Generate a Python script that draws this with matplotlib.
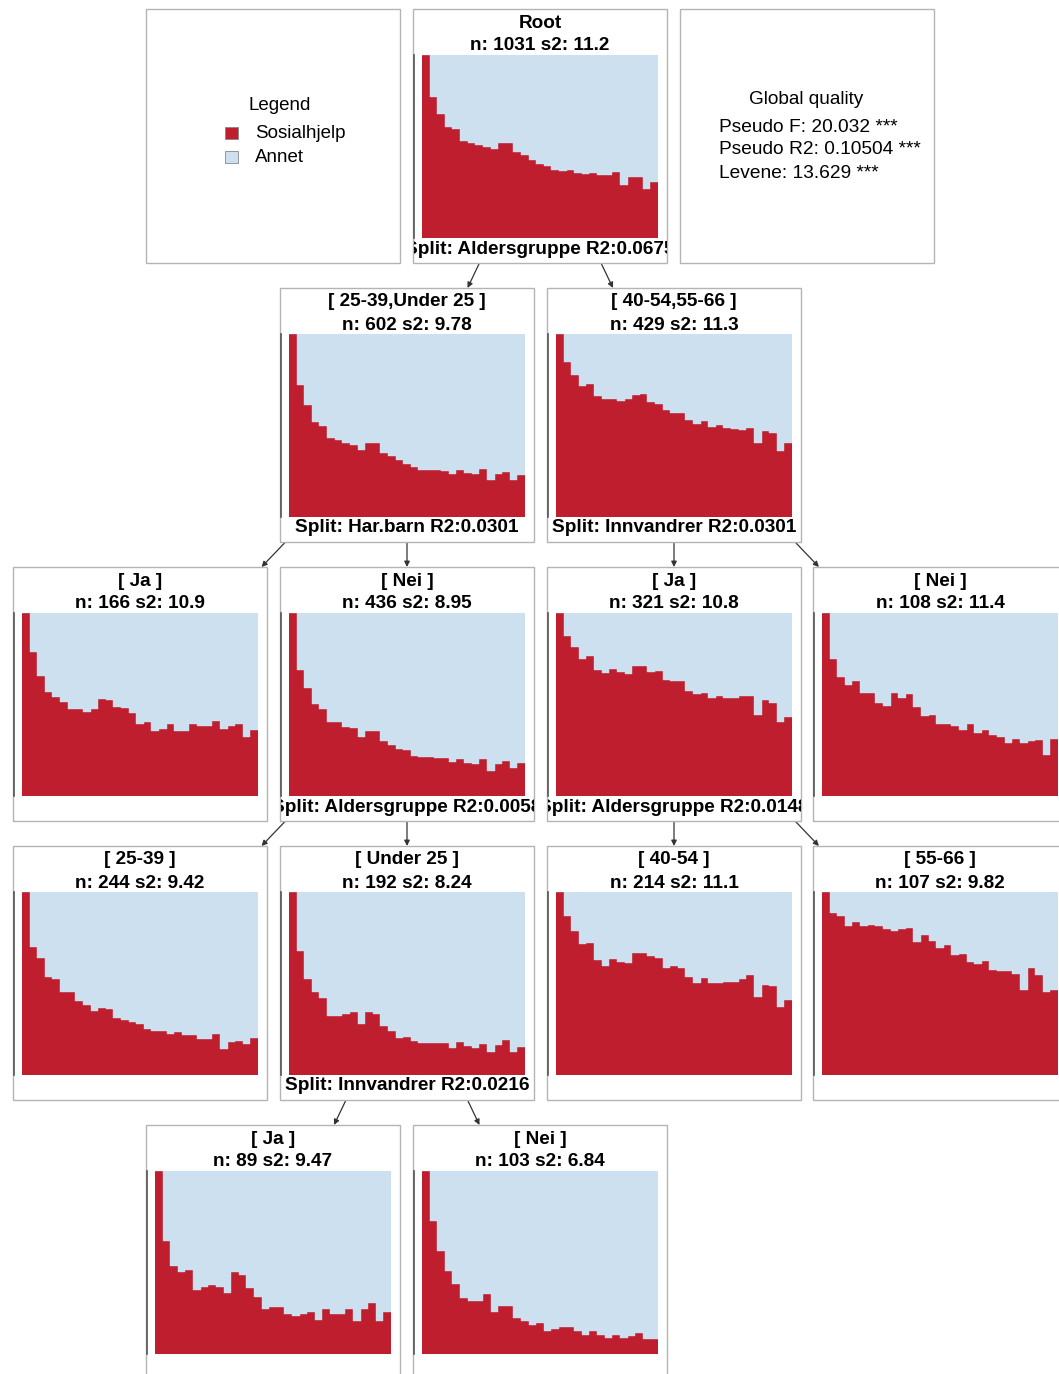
import matplotlib
matplotlib.use("Agg")
import matplotlib.pyplot as plt
from matplotlib.patches import Rectangle
from matplotlib.transforms import Bbox, TransformedBbox, IdentityTransform
import numpy as np

plt.rcParams['font.family'] = ['Liberation Sans', 'DejaVu Sans']

# ---------------- data ----------------
states = ["Sosialhjelp", "Annet"]
state_colors = ["#BE1E2D", "#CCE0F0"]

# share in state "Sosialhjelp" at each of 31 time points (rest = "Annet")
p_root = [1.0, 0.773, 0.680, 0.605, 0.596, 0.531, 0.520, 0.507, 0.500, 0.485, 0.520, 0.520, 0.469, 0.451,
          0.424, 0.407, 0.396, 0.369, 0.365, 0.369, 0.356, 0.351, 0.355, 0.342, 0.342, 0.358, 0.287, 0.335,
          0.335, 0.267, 0.305]
p_young = [1.0, 0.720, 0.613, 0.520, 0.498, 0.431, 0.422, 0.404, 0.395, 0.364, 0.407, 0.404, 0.351, 0.336,
           0.309, 0.287, 0.275, 0.255, 0.256, 0.256, 0.253, 0.233, 0.258, 0.238, 0.236, 0.260, 0.202, 0.235,
           0.245, 0.200, 0.229]
p_old = [1.0, 0.845, 0.775, 0.715, 0.729, 0.660, 0.647, 0.647, 0.633, 0.644, 0.665, 0.673, 0.631, 0.618,
         0.585, 0.571, 0.571, 0.531, 0.509, 0.522, 0.491, 0.502, 0.484, 0.480, 0.478, 0.489, 0.405, 0.469,
         0.458, 0.358, 0.402]
p_young_barn_ja = [1.0, 0.789, 0.658, 0.567, 0.540, 0.513, 0.475, 0.475, 0.460, 0.475, 0.529, 0.524, 0.485,
                   0.482, 0.453, 0.393, 0.404, 0.355, 0.367, 0.395, 0.355, 0.355, 0.393, 0.382, 0.385, 0.409,
                   0.367, 0.385, 0.393, 0.320, 0.362]
p_young_barn_nei = [1.0, 0.691, 0.589, 0.504, 0.478, 0.404, 0.404, 0.378, 0.371, 0.320, 0.356, 0.356, 0.302,
                    0.280, 0.255, 0.249, 0.220, 0.213, 0.213, 0.207, 0.209, 0.187, 0.204, 0.182, 0.176, 0.200,
                    0.138, 0.173, 0.191, 0.153, 0.180]
p_old_innv_ja = [1.0, 0.876, 0.815, 0.751, 0.764, 0.691, 0.673, 0.695, 0.676, 0.669, 0.711, 0.713, 0.675,
                 0.682, 0.636, 0.627, 0.627, 0.575, 0.556, 0.564, 0.538, 0.544, 0.535, 0.533, 0.545, 0.549,
                 0.445, 0.525, 0.509, 0.405, 0.429]
p_old_innv_nei = [1.0, 0.749, 0.649, 0.604, 0.631, 0.564, 0.564, 0.509, 0.491, 0.564, 0.535, 0.556, 0.489,
                  0.435, 0.442, 0.396, 0.395, 0.385, 0.358, 0.396, 0.342, 0.358, 0.331, 0.322, 0.287, 0.313,
                  0.287, 0.298, 0.305, 0.222, 0.313]
p_2539 = [1.0, 0.698, 0.640, 0.535, 0.524, 0.455, 0.455, 0.407, 0.385, 0.349, 0.364, 0.358, 0.311, 0.298,
          0.287, 0.276, 0.249, 0.238, 0.238, 0.222, 0.236, 0.218, 0.218, 0.195, 0.195, 0.222, 0.144, 0.180,
          0.187, 0.169, 0.200]
p_under25 = [1.0, 0.676, 0.524, 0.455, 0.420, 0.325, 0.325, 0.331, 0.345, 0.280, 0.345, 0.336, 0.267, 0.240,
             0.202, 0.209, 0.184, 0.175, 0.175, 0.175, 0.173, 0.145, 0.178, 0.158, 0.149, 0.169, 0.125, 0.164,
             0.191, 0.125, 0.153]
p_4054 = [1.0, 0.869, 0.787, 0.718, 0.722, 0.629, 0.598, 0.633, 0.615, 0.611, 0.665, 0.665, 0.649, 0.638,
          0.584, 0.593, 0.585, 0.536, 0.502, 0.529, 0.504, 0.504, 0.509, 0.509, 0.525, 0.545, 0.427, 0.493,
          0.485, 0.373, 0.409]
p_5566 = [1.0, 0.885, 0.869, 0.813, 0.838, 0.813, 0.820, 0.813, 0.796, 0.787, 0.796, 0.802, 0.729, 0.764,
          0.733, 0.696, 0.711, 0.655, 0.660, 0.618, 0.605, 0.622, 0.576, 0.567, 0.567, 0.551, 0.465, 0.584,
          0.549, 0.456, 0.464]
p_u25_innv_ja = [1.0, 0.618, 0.482, 0.447, 0.457, 0.348, 0.368, 0.379, 0.368, 0.335, 0.447, 0.431, 0.359,
                 0.312, 0.245, 0.255, 0.255, 0.221, 0.210, 0.219, 0.232, 0.188, 0.245, 0.221, 0.221, 0.245,
                 0.179, 0.245, 0.279, 0.179, 0.232]
p_u25_innv_nei = [1.0, 0.725, 0.562, 0.453, 0.384, 0.308, 0.290, 0.290, 0.328, 0.230, 0.261, 0.261, 0.197,
                  0.181, 0.161, 0.172, 0.125, 0.134, 0.145, 0.145, 0.123, 0.105, 0.125, 0.105, 0.085, 0.105,
                  0.085, 0.096, 0.116, 0.083, 0.083]

node_labels = ["Root", "[ 25-39,Under 25 ]", "[ 40-54,55-66 ]", "[ Ja ]", "[ Nei ]", "[ Ja ]", "[ Nei ]",
               "[ 25-39 ]", "[ Under 25 ]", "[ 40-54 ]", "[ 55-66 ]", "[ Ja ]", "[ Nei ]"]
node_n = [1031, 602, 429, 166, 436, 321, 108, 244, 192, 214, 107, 89, 103]
node_s2 = ["11.2", "9.78", "11.3", "10.9", "8.95", "10.8", "11.4", "9.42", "8.24", "11.1", "9.82", "9.47", "6.84"]
node_split = ["Split: Aldersgruppe R2:0.0675", "Split: Har.barn R2:0.0301", "Split: Innvandrer R2:0.0301",
              None, "Split: Aldersgruppe R2:0.0058", "Split: Aldersgruppe R2:0.0148", None,
              None, "Split: Innvandrer R2:0.0216", None, None, None, None]
node_parent = [None, 0, 0, 1, 1, 2, 2, 4, 4, 5, 5, 8, 8]
node_props = [p_root, p_young, p_old, p_young_barn_ja, p_young_barn_nei, p_old_innv_ja, p_old_innv_nei,
              p_2539, p_under25, p_4054, p_5566, p_u25_innv_ja, p_u25_innv_nei]

quality_title = "Global quality"
quality_lines = ["Pseudo F: 20.032 ***", "Pseudo R2: 0.10504 ***", "Levene: 13.629 ***"]

# ---------------- layout (pixels) ----------------
W, H = 1059, 1374
BOX = 254
row_top = [9, 288, 567, 846, 1125]
node_pos = [(413, 0), (280, 1), (547, 1), (13, 2), (280, 2), (547, 2), (813, 2),
            (13, 3), (280, 3), (547, 3), (813, 3), (146, 4), (413, 4)]
BORDER = "#B4B4B4"
EDGE = "#333333"
FS = 13.7

fig = plt.figure(figsize=(W / 100, H / 100), dpi=100)
ax = fig.add_axes([0, 0, 1, 1])
ax.set_xlim(0, W)
ax.set_ylim(H, 0)
ax.axis("off")


def box(x, y):
    r = Rectangle((x, y), BOX, BOX, facecolor="white", edgecolor=BORDER, lw=1.0, zorder=2)
    ax.add_patch(r)
    return r


# edges
for i, par in enumerate(node_parent):
    if par is None:
        continue
    px, pr = node_pos[par]
    cx, cr = node_pos[i]
    pcx, pcy = px + BOX / 2, row_top[pr] + BOX / 2
    ccx, ccy = cx + BOX / 2, row_top[cr] + BOX / 2
    y1 = row_top[pr] + BOX
    y2 = row_top[cr]
    x1 = pcx + (ccx - pcx) * (y1 - pcy) / (ccy - pcy)
    x2 = pcx + (ccx - pcx) * (y2 - pcy) / (ccy - pcy)
    ax.annotate("", xy=(x2, y2), xytext=(x1, y1),
                arrowprops=dict(arrowstyle="-|>", color=EDGE, lw=0.9, mutation_scale=8,
                                shrinkA=0, shrinkB=0), zorder=1)

# legend box
lx, ly = 146, row_top[0]
box(lx, ly)
ax.text(lx + 134, ly + 96, "Legend", ha="center", va="center", fontsize=FS - 0.2, zorder=3)
for k, (s, c) in enumerate(zip(states, state_colors)):
    yy = ly + 124 + k * 24
    ax.add_patch(Rectangle((lx + 79, yy - 6), 13, 12, facecolor=c, edgecolor="#888888", lw=0.6, zorder=3))
    ax.text(lx + 109, yy + 1, s, ha="left", va="center", fontsize=FS - 0.2, zorder=3)

# quality box
qx, qy = 680, row_top[0]
box(qx, qy)
ax.text(qx + 126, qy + 90, quality_title, ha="center", va="center", fontsize=FS, zorder=3)
for k, line in enumerate(quality_lines):
    ax.text(qx + 39, qy + 118 + k * 23, line, ha="left", va="center", fontsize=FS + 0.1, zorder=3)

# nodes
x_t = np.arange(1, len(p_root) + 1)
for i in range(len(node_labels)):
    bx, r = node_pos[i]
    by = row_top[r]
    box(bx, by)
    cx = bx + BOX / 2
    ax.text(cx, by + 14, node_labels[i], ha="center", va="center", fontsize=FS, fontweight="bold", zorder=3)
    ax.text(cx, by + 37, f"n: {node_n[i]} s2: {node_s2[i]}", ha="center", va="center",
            fontsize=FS, fontweight="bold", zorder=3)
    if node_split[i]:
        t = ax.text(cx, by + 240, node_split[i], ha="center", va="center", fontsize=FS,
                    fontweight="bold", zorder=3)
        clip = TransformedBbox(Bbox.from_extents(bx + 0.5, H - by - BOX, bx + BOX - 0.5, H - by),
                               IdentityTransform())
        t.set_clip_box(clip)
        t.set_clip_on(True)
    # left axis line
    ax.plot([bx + 1, bx + 1], [by + 46, by + 229], color="#555555", lw=1.2, zorder=3)
    # distribution plot
    l, tpx, w, h = bx + 9, by + 46, 236, 183
    pax = fig.add_axes([l / W, 1 - (tpx + h) / H, w / W, h / H])
    v = np.array(node_props[i])
    pax.bar(x_t, v, width=1.0, color=state_colors[0], edgecolor=state_colors[0], lw=0.3)
    pax.bar(x_t, 1 - v, bottom=v, width=1.0, color=state_colors[1], edgecolor=state_colors[1], lw=0.3)
    pax.set_xlim(0.5, len(x_t) + 0.5)
    pax.set_ylim(0, 1)
    pax.axis("off")

fig.savefig("out.png", dpi=100)
